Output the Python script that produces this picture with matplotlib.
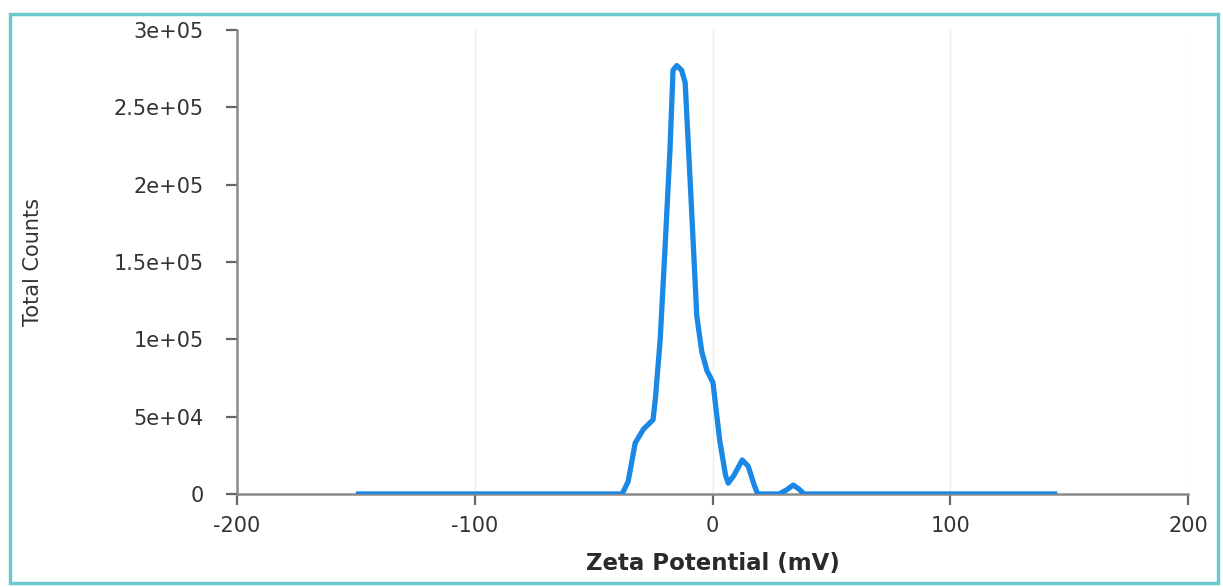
import matplotlib
matplotlib.use("Agg")
import matplotlib.pyplot as plt
from matplotlib.patches import Rectangle

# Zeta potential distribution (mV vs total counts)
zeta_mv = [-150, -38, -35.5, -32.5, -29, -25, -24, -22, -20, -17.9, -16.6, -15,
           -13, -11.5, -9, -6.6, -4.5, -2.4, 0.2, 3, 5.5, 6.6, 9, 12.5, 15, 17.5,
           19, 28, 31, 34, 36.5, 38.5, 145]
counts = [0, 0, 8000, 33000, 42000, 48000, 62000, 100000, 158000, 222000, 274000,
          277000, 274000, 266000, 190000, 115000, 92000, 80000, 72000, 35000, 12000,
          7000, 12000, 22000, 18000, 6000,
          0, 0, 2500, 5800, 3000, 0, 0]

x_ticks = [-200, -100, 0, 100, 200]
x_tick_labels = ["-200", "-100", "0", "100", "200"]
y_ticks = [0, 50000, 100000, 150000, 200000, 250000, 300000]
y_tick_labels = ["0", "5e+04", "1e+05", "1.5e+05", "2e+05", "2.5e+05", "3e+05"]

fig = plt.figure(figsize=(12.23, 5.87), dpi=100)
fig.patch.set_facecolor("white")

# thin teal frame around the panel
fig.patches.append(Rectangle((10 / 1223, 4 / 587), 1208 / 1223, 569 / 587,
                             transform=fig.transFigure, fill=False,
                             edgecolor="#6cc9cf", linewidth=2.5))

ax = fig.add_axes([237 / 1223, 93 / 587, 951 / 1223, 464 / 587])
ax.plot(zeta_mv, counts, color="#1a88e4", linewidth=3.8,
        solid_joinstyle="round", solid_capstyle="butt", zorder=3)

ax.set_xlim(-200, 200)
ax.set_ylim(0, 300000)
ax.set_xticks(x_ticks)
ax.set_xticklabels(x_tick_labels)
ax.set_yticks(y_ticks)
ax.set_yticklabels(y_tick_labels)

ax.grid(axis="x", color="#ececec", linewidth=1)
ax.set_axisbelow(True)

for side in ("top", "right"):
    ax.spines[side].set_visible(False)
for side in ("left", "bottom"):
    ax.spines[side].set_color("#8a8a8a")
    ax.spines[side].set_linewidth(1.8)

ax.tick_params(axis="both", colors="#666666", labelcolor="#333333",
               labelsize=15, length=8, width=1.6, direction="out")
ax.tick_params(axis="y", pad=16)
ax.tick_params(axis="x", pad=8)

ax.set_xlabel("Zeta Potential (mV)", fontsize=16.5, color="#2a2a2a",
              fontweight="bold")
ax.xaxis.set_label_coords(0.5, -0.125)
ax.set_ylabel("Total Counts", fontsize=15, color="#333333")
ax.yaxis.set_label_coords(-0.204, 0.5)

fig.savefig("out.png", dpi=100, facecolor="white")
